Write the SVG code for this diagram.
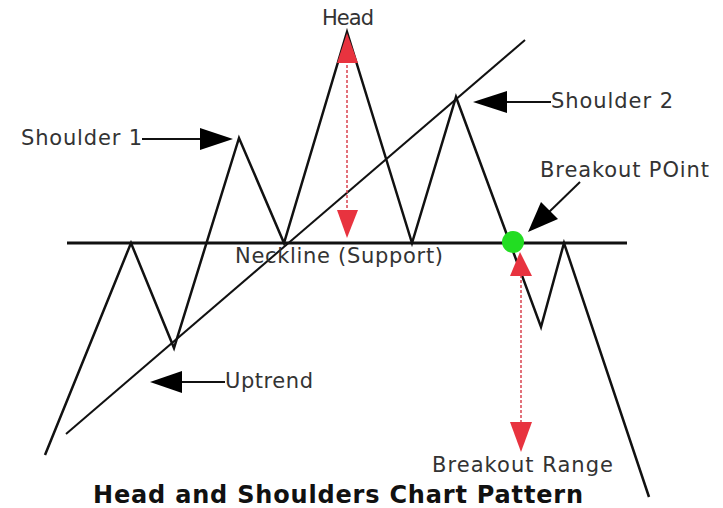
<svg xmlns="http://www.w3.org/2000/svg" width="723" height="508" viewBox="0 0 723 508">
<style>
.lbl{font-family:"DejaVu Sans","Liberation Sans",sans-serif;font-size:21px;fill:#333}
.title{font-family:"DejaVu Sans","Liberation Sans",sans-serif;font-size:24px;font-weight:bold;fill:#111}
.price{fill:none;stroke:#111;stroke-width:2.5;stroke-linejoin:miter}
.trend{fill:none;stroke:#111;stroke-width:2}
.neck{stroke:#111;stroke-width:3}
.ptr{stroke:#111;stroke-width:2;fill:none}
.head{fill:#000}
.range{stroke:#d9434f;stroke-width:1.5;stroke-dasharray:3 2;fill:none}
.rtri{fill:#e8333f}
</style>
<rect width="723" height="508" fill="#fff"/>
<g id="connectors">
  <line id="neckline" class="neck" x1="67" y1="243" x2="627" y2="243"/>
  <line id="uptrend-line" class="trend" x1="66" y1="434" x2="525" y2="40"/>
  <polyline id="price" class="price" points="45,455 131,243 174,348 239,138 284,243 347,32 412,243 456,97 541,327 564,243 649,497"/>
  <line class="range" x1="347" y1="60" x2="347" y2="212"/>
  <polygon class="rtri" points="347,33 337,63 358,63"/>
  <polygon class="rtri" points="347,238 337,210 358,210"/>
  <line class="range" x1="521" y1="275" x2="521" y2="424"/>
  <polygon class="rtri" points="520,252 510,276 532,276"/>
  <polygon class="rtri" points="521,452 510,422 532,422"/>
  <line class="ptr" x1="142" y1="139" x2="202" y2="139"/>
  <polygon class="head" points="233,139 200,128 200,150"/>
  <line class="ptr" x1="505" y1="102" x2="551" y2="102"/>
  <polygon class="head" points="473,102 507,91 507,113"/>
  <line class="ptr" x1="180" y1="382" x2="225" y2="382"/>
  <polygon class="head" points="150,382 182,371 182,393"/>
  <line class="ptr" x1="580" y1="182" x2="548" y2="213"/>
  <polygon class="head" points="528,232 541,202 558,219"/>
</g>
<g id="breakout-point"><circle cx="513" cy="242" r="11" fill="#22dd22"/></g>
<g id="label-head"><text class="lbl" x="322" y="25" textLength="52">Head</text></g>
<g id="label-shoulder1"><text class="lbl" x="21" y="145" textLength="121">Shoulder 1</text></g>
<g id="label-shoulder2"><text class="lbl" x="551" y="108" textLength="122">Shoulder 2</text></g>
<g id="label-breakout-point"><text class="lbl" x="540" y="177" textLength="169">Breakout POint</text></g>
<g id="label-neckline"><text class="lbl" x="235" y="263" textLength="208">Neckline (Support)</text></g>
<g id="label-uptrend"><text class="lbl" x="225" y="388" textLength="88">Uptrend</text></g>
<g id="label-breakout-range"><text class="lbl" x="432" y="472" textLength="181">Breakout Range</text></g>
<g id="title"><text class="title" x="93" y="503" textLength="490">Head and Shoulders Chart Pattern</text></g>
</svg>
